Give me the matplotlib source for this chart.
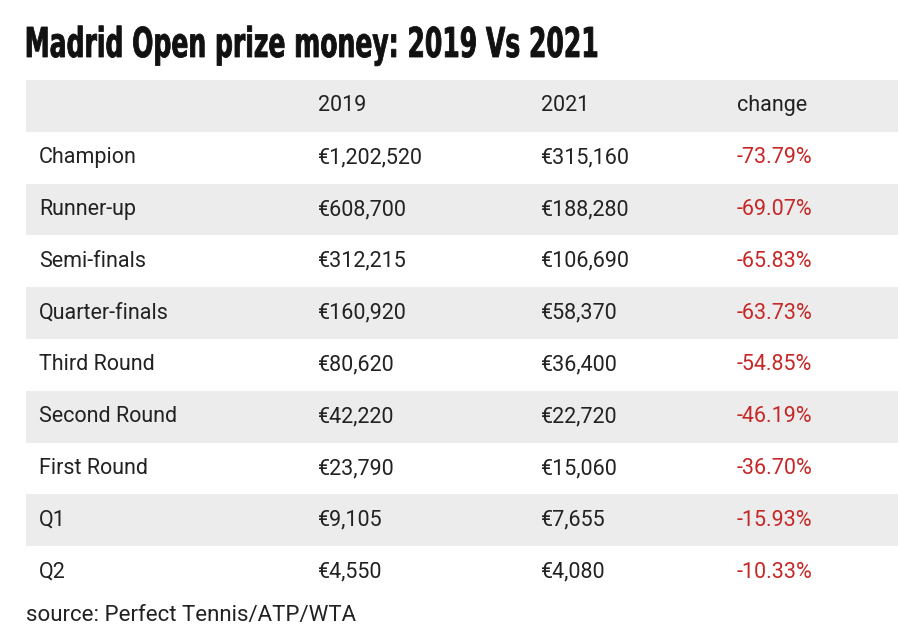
import matplotlib
matplotlib.use("Agg")
import matplotlib.pyplot as plt
from matplotlib.patches import Rectangle, PathPatch
from matplotlib.textpath import TextPath
from matplotlib.font_manager import FontProperties
from matplotlib.transforms import Affine2D

title = "Madrid Open prize money: 2019 Vs 2021"
headers = ["", "2019", "2021", "change"]
rounds = ["Champion", "Runner-up", "Semi-finals", "Quarter-finals", "Third Round",
          "Second Round", "First Round", "Q1", "Q2"]
prize_2019 = ["€1,202,520", "€608,700", "€312,215", "€160,920", "€80,620",
              "€42,220", "€23,790", "€9,105", "€4,550"]
prize_2021 = ["€315,160", "€188,280", "€106,690", "€58,370", "€36,400",
              "€22,720", "€15,060", "€7,655", "€4,080"]
change = ["-73.79%", "-69.07%", "-65.83%", "-63.73%", "-54.85%",
          "-46.19%", "-36.70%", "-15.93%", "-10.33%"]
source = "source: Perfect Tennis/ATP/WTA"

W, H = 900, 640
fig = plt.figure(figsize=(9, 6.4), dpi=100)
ax = fig.add_axes([0, 0, 1, 1])
ax.set_xlim(0, W); ax.set_ylim(H, 0); ax.axis("off")

# condensed bold title drawn as a horizontally squeezed text path
tp = TextPath((0, 0), title, size=100, prop=FontProperties(family="DejaVu Sans", weight="bold"))
ext = tp.get_extents()
cap = TextPath((0, 0), "M", size=100, prop=FontProperties(family="DejaVu Sans", weight="bold")).get_extents()
sy = 30 / cap.height
sx = 570 / ext.width
tr = Affine2D().translate(-ext.x0, 0).scale(sx, -sy).translate(27, 57)
ax.add_patch(PathPatch(tr.transform_path(tp), facecolor="#111111", edgecolor="#111111", lw=0.6))

top, rh = 80, 51.8
x0, x1 = 26, 898
cols = [39, 318, 541, 737]
fs = 15.5
font = ["Roboto", "DejaVu Sans"]
gray = "#ececec"

ax.add_patch(Rectangle((x0, top), x1 - x0, rh, color=gray, lw=0))
for j, h in enumerate(headers):
    ax.text(cols[j], top + rh / 2, h, fontsize=fs, family=font, va="center", color="#222222")

for i in range(len(rounds)):
    y = top + rh * (i + 1)
    if i % 2 == 1:
        ax.add_patch(Rectangle((x0, y), x1 - x0, rh, color=gray, lw=0))
    yc = y + rh / 2
    for j, v in enumerate([rounds[i], prize_2019[i], prize_2021[i]]):
        ax.text(cols[j], yc, v, fontsize=fs, family=font, va="center", color="#222222")
    ax.text(cols[3], yc, change[i], fontsize=fs, family=font, va="center", color="#c62828")

ax.text(26, 615, source, fontsize=16, family=font, va="center", color="#222222")
fig.savefig("out.png", dpi=100)
